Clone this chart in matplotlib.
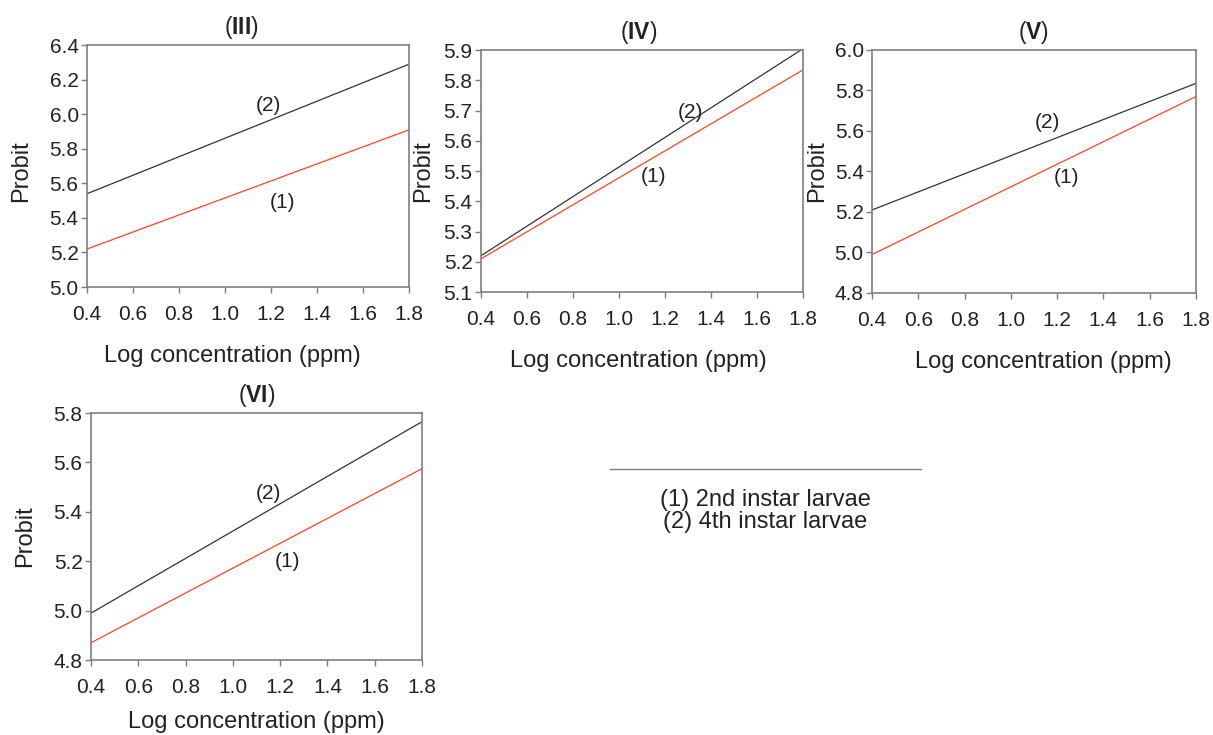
import matplotlib
matplotlib.use("Agg")
import matplotlib.pyplot as plt
import numpy as np

plt.rcParams['font.family'] = ['Liberation Sans', 'DejaVu Sans']
plt.rcParams['mathtext.fontset'] = 'custom'
plt.rcParams['mathtext.bf'] = 'Liberation Sans:bold'
plt.rcParams['mathtext.rm'] = 'Liberation Sans'

# -------------------------
# Data
# -------------------------
log_conc = [0.4, 1.8]

panel_names = ["III", "IV", "V", "VI"]
instar2_lines = {  # (1) 2nd instar larvae
    "III": [5.22, 5.91],
    "IV": [5.21, 5.835],
    "V": [4.99, 5.77],
    "VI": [4.87, 5.575],
}
instar4_lines = {  # (2) 4th instar larvae
    "III": [5.54, 6.29],
    "IV": [5.22, 5.905],
    "V": [5.21, 5.835],
    "VI": [4.99, 5.765],
}
y_ranges = {
    "III": (5.0, 6.4, 0.2),
    "IV": (5.1, 5.9, 0.1),
    "V": (4.8, 6.0, 0.2),
    "VI": (4.8, 5.8, 0.2),
}
label1_pos = {"III": (1.25, 5.49), "IV": (1.15, 5.483), "V": (1.24, 5.37), "VI": (1.23, 5.20)}
label2_pos = {"III": (1.19, 6.05), "IV": (1.31, 5.695), "V": (1.16, 5.64), "VI": (1.15, 5.476)}

# axes placement in figure fraction: left, bottom, width, height
axes_rect = {
    "III": [0.0717, 0.6095, 0.2655, 0.329],
    "IV": [0.3965, 0.6027, 0.2655, 0.329],
    "V": [0.7189, 0.6014, 0.267, 0.3306],
    "VI": [0.075, 0.102, 0.2729, 0.336],
}
ylabel_xy = {"III": (-0.171, 0.48), "IV": (-0.146, 0.5), "V": (-0.136, 0.5), "VI": (-0.166, 0.5)}
xlabel_x = {"III": 0.453, "IV": 0.488, "V": 0.528, "VI": 0.5}
xlabel_pad = {"III": 15, "IV": 15, "V": 15, "VI": 10}
title_x = {"III": 0.48, "IV": 0.49, "V": 0.5, "VI": 0.5}

frame_color = "#7f7f7f"
red = "#ff4422"
text_color = "#222222"

fig = plt.figure(figsize=(12.13, 7.35), dpi=100)

for name in panel_names:
    ax = fig.add_axes(axes_rect[name])
    ax.plot(log_conc, instar4_lines[name], color="#333333", lw=0.9)
    ax.plot(log_conc, instar2_lines[name], color=red, lw=0.9)

    lo, hi, step = y_ranges[name]
    ax.set_xlim(0.4, 1.8)
    ax.set_ylim(lo, hi)
    ax.set_xticks(np.arange(0.4, 1.81, 0.2))
    ax.set_yticks(np.arange(lo, hi + step / 2, step))
    ax.xaxis.set_major_formatter(plt.FormatStrFormatter("%.1f"))
    ax.yaxis.set_major_formatter(plt.FormatStrFormatter("%.1f"))

    for sp in ax.spines.values():
        sp.set_color(frame_color)
        sp.set_linewidth(1.2)
    ax.tick_params(direction="out", length=4, width=1.0, color=frame_color,
                   labelsize=15, labelcolor=text_color)
    ax.tick_params(axis="x", pad=9)
    ax.tick_params(axis="y", pad=2)

    ax.set_xlabel("Log concentration (ppm)", fontsize=17, labelpad=xlabel_pad[name], color=text_color)
    ax.xaxis.label.set_x(xlabel_x[name])
    ax.set_ylabel("Probit", fontsize=17, color=text_color)
    ax.yaxis.set_label_coords(*ylabel_xy[name])
    ax.set_title(r"($\mathbf{%s}$)" % name, fontsize=16.5, pad=8, color=text_color, x=title_x[name])

    ax.text(*label1_pos[name], "(1)", fontsize=15, ha="center", va="center", color=text_color)
    ax.text(*label2_pos[name], "(2)", fontsize=15, ha="center", va="center", color=text_color)

# key at lower right
fig.add_artist(plt.Line2D([610 / 1213, 921 / 1213], [1 - 469 / 735, 1 - 469 / 735],
                          color=frame_color, lw=1.0))
fig.text(765 / 1213, 1 - 511 / 735, "(1) 2nd instar larvae\n(2) 4th instar larvae",
         ha="center", va="center", fontsize=17, color=text_color, linespacing=1.0)

fig.savefig("out.png", dpi=100)
